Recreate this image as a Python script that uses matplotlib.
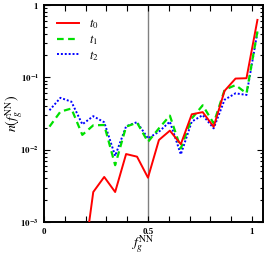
import numpy as np
import matplotlib
matplotlib.use("Agg")
import matplotlib.pyplot as plt
from matplotlib.ticker import LogLocator, MultipleLocator, FixedLocator, NullFormatter

plt.rcParams["font.family"] = "Liberation Serif"
plt.rcParams["mathtext.fontset"] = "stix"

# bin centres of f_g^NN
f_nn = (np.arange(20) + 0.5) / 19

t0 = [np.nan, np.nan, np.nan, 2.0e-4, 2.6e-3, 4.2e-3, 2.6e-3, 8.7e-3, 8.0e-3, 4.1e-3,
      1.36e-2, 1.83e-2, 1.19e-2, 3.08e-2, 3.3e-2, 2.07e-2, 6.5e-2, 9.6e-2, 9.7e-2, 0.62]
t1 = [2.08e-2, 3.35e-2, 3.7e-2, 1.6e-2, 2.17e-2, 2.19e-2, 6.1e-3, 2.08e-2, 2.36e-2, 1.28e-2,
      1.97e-2, 2.95e-2, 1.04e-2, 2.7e-2, 4.1e-2, 2.31e-2, 6.7e-2, 7.8e-2, 6.0e-2, 0.43]
t2 = [3.5e-2, 5.2e-2, 4.6e-2, 2.24e-2, 2.9e-2, 2.39e-2, 8.2e-3, 2.1e-2, 2.4e-2, 1.43e-2,
      1.77e-2, 2.44e-2, 8.6e-3, 2.44e-2, 3.0e-2, 1.97e-2, 4.9e-2, 6.0e-2, 5.7e-2, 0.42]

fig = plt.figure(figsize=(2.7, 2.57), dpi=100)
ax = fig.add_axes([0.163, 0.136, 0.811, 0.845])

ax.axvline(0.5, color="#808080", lw=1.0, zorder=1)
ax.plot(f_nn, t0, color="#ff0000", lw=1.4, label="$t_0$", zorder=4)
ax.plot(f_nn, t1, color="#00e000", lw=1.6, ls=(0, (3, 2)), label="$t_1$", zorder=3)
ax.plot(f_nn, t2, color="#0000ff", lw=1.4, ls=(0, (1, 1)), label="$t_2$", zorder=2)

ax.set_yscale("log")
ax.set_xlim(0, 1.053)
ax.set_ylim(1e-3, 1)

ax.xaxis.set_major_locator(FixedLocator([0, 0.5, 1]))
ax.xaxis.set_minor_locator(MultipleLocator(0.1))
ax.set_xticklabels(["0", "0.5", "1"], fontweight="bold")
ax.yaxis.set_minor_locator(LogLocator(base=10, subs=np.arange(2, 10), numticks=10))
ax.yaxis.set_minor_formatter(NullFormatter())
ax.set_yticks([1e-3, 1e-2, 1e-1, 1])
ax.set_yticklabels(["$\\mathbf{10^{-3}}$", "$\\mathbf{10^{-2}}$", "$\\mathbf{10^{-1}}$", "$\\mathbf{1}$"])

ax.tick_params(which="both", direction="in", top=True, right=True, labelsize=6.5, width=0.8)
ax.tick_params(which="major", length=4)
ax.tick_params(which="minor", length=2.5)
ax.tick_params(axis="x", which="minor", length=4)
ax.tick_params(axis="x", pad=4)
for s in ax.spines.values():
    s.set_linewidth(1.4)

ax.set_xlabel("$f_g^{\\rm NN}$", fontsize=10)
ax.xaxis.set_label_coords(0.45, -0.055)
ax.set_ylabel("$n(f_g^{\\rm NN})$", fontsize=10, va="center")
ax.yaxis.set_label_coords(-0.137, 0.5)

ax.legend(loc="upper left", frameon=False, fontsize=9, handlelength=1.8,
          borderaxespad=0.6, labelspacing=0.15)

fig.savefig("out.png", dpi=100)
